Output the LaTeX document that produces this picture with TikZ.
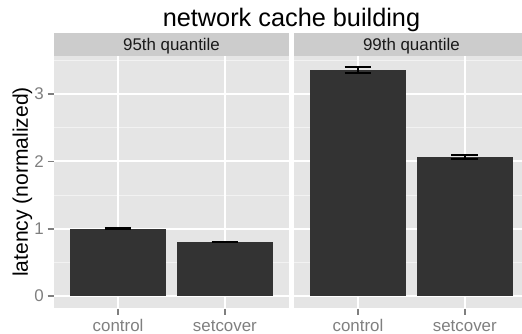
\documentclass[tikz,border=0pt]{standalone}
\usepackage{fontspec}
\setmainfont{Liberation Sans}
\usepackage{xcolor}
\usepackage{tikz}
\definecolor{panelbg}{HTML}{E5E5E5}
\definecolor{stripbg}{HTML}{CCCCCC}
\definecolor{gridminor}{HTML}{F2F2F2}
\definecolor{barfill}{HTML}{333333}
\definecolor{axisgrey}{HTML}{7F7F7F}
\definecolor{striptext}{HTML}{1A1A1A}

\begin{document}
\begin{tikzpicture}[x=1pt,y=-1pt,line cap=butt,
  ticklabel/.style={text=axisgrey,font=\fontsize{16.9}{18}\selectfont,inner sep=0pt},
  tickline/.style={draw=axisgrey,line width=1.6pt},
  minorline/.style={draw=gridminor,line width=0.9pt},
  majorline/.style={draw=white,line width=1.8pt},
  errbar/.style={draw=black,line width=1.8pt}]
\useasboundingbox (0,0) rectangle (522,334);
\clip (0,0) rectangle (522,334);
% titles
\node[anchor=base,inner sep=0pt,font=\fontsize{25.3}{30}\selectfont] (title) at (291.5,27) {network cache building};
\node[rotate=90,inner sep=0pt,font=\fontsize{21.1}{25}\selectfont] (ylab) at (22.5,182) {latency (normalized)};
% y axis
\foreach \v in {0,1,2,3}{
  \draw[tickline] (47.5,{296-67.3*\v}) -- (54,{296-67.3*\v});
  \node[ticklabel,anchor=east] (ytick\v) at (44,{296-67.3*\v}) {\v};
}
% facets
\foreach \ox/\name/\lab/\vc/\ec/\vs/\es in {11.3/left/95th quantile/1.0/0.008/0.803/0.008,
                                           251.2/right/99th quantile/3.358/0.04/2.066/0.025}{
 \begin{scope}[shift={(\ox,296)},x=106.8pt,y=67.3pt]
  \fill[panelbg] (0.4,-0.18) rectangle (2.6,3.566);
  \fill[stripbg] (0.4,3.566) rectangle (2.6,3.915);
  \node[anchor=base,inner sep=0pt,text=striptext,font=\fontsize{16.9}{18}\selectfont] (strip\name) at (1.5,3.643) {\lab};
  \foreach \g in {0.5,1.5,2.5,3.5} \draw[minorline] (0.4,\g) -- (2.6,\g);
  \foreach \g in {0,1,2,3} \draw[majorline] (0.4,\g) -- (2.6,\g);
  \foreach \g in {1,2} \draw[majorline] (\g,-0.18) -- (\g,3.566);
  % bars
  \fill[barfill] (0.55,0) rectangle (1.45,\vc);
  \fill[barfill] (1.55,0) rectangle (2.45,\vs);
  \draw[errbar] (0.875,{\vc+\ec}) -- (1.125,{\vc+\ec}) (1,{\vc+\ec}) -- (1,{\vc-\ec})
                (0.875,{\vc-\ec}) -- (1.125,{\vc-\ec});
  \draw[errbar] (1.875,{\vs+\es}) -- (2.125,{\vs+\es}) (2,{\vs+\es}) -- (2,{\vs-\es})
                (1.875,{\vs-\es}) -- (2.125,{\vs-\es});
  % x axis
  \draw[tickline] (1,-0.19) -- (1,-0.28);
  \draw[tickline] (2,-0.19) -- (2,-0.28);
  \node[ticklabel,anchor=base] (xc\name) at (1,-0.53) {control};
  \node[ticklabel,anchor=base] (xs\name) at (2,-0.53) {setcover};
 \end{scope}
}
\end{tikzpicture}
\end{document}
